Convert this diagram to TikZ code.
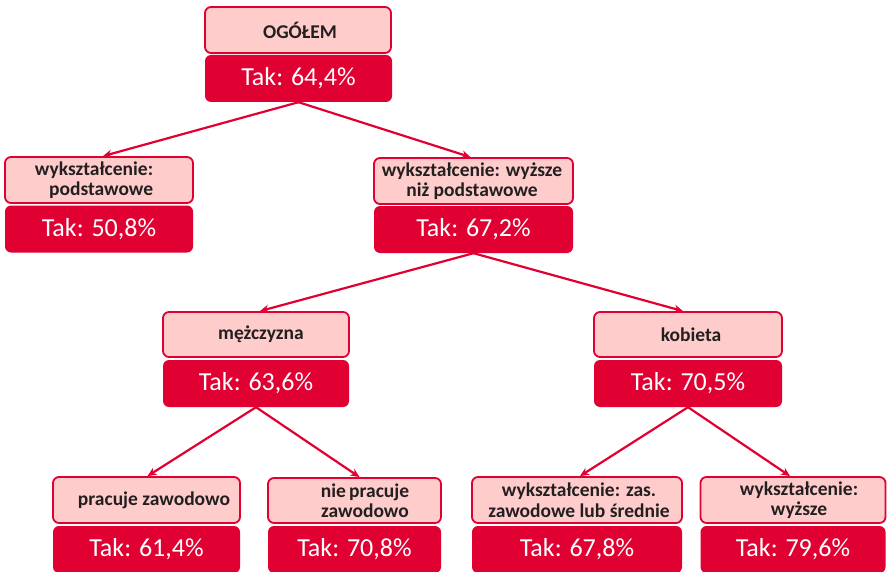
\documentclass[tikz,border=0pt]{standalone}
\usepackage{fontspec}
\setmainfont{Carlito}
\usetikzlibrary{arrows.meta}
\definecolor{crim}{RGB}{224,0,50}
\definecolor{pinkc}{RGB}{255,204,204}
\definecolor{darkt}{RGB}{35,31,32}
\tikzset{
  lblbox/.style={draw=crim, fill=pinkc, line width=1.8pt, rounded corners=6pt,
    minimum height=46pt, inner sep=0pt},
  lbltxt/.style={text=darkt, font=\bfseries\fontsize{19.5}{20.5}\selectfont, inner sep=0pt},
  takbox/.style={fill=crim, rounded corners=6pt, minimum height=47pt, inner sep=0pt,
    text=white, font=\fontsize{26}{30}\selectfont},
  link/.style={draw=crim, line width=2.2pt, -{Stealth[length=9pt,width=8pt]}}
}
\begin{document}
\begin{tikzpicture}[x=1pt,y=-1pt]
\useasboundingbox (0,0) rectangle (888,572);

% level 0
\node[lblbox, minimum width=186pt] (l0) at (298,30) {};
\node[lbltxt] (l0t) at (300,30) {OGÓŁEM};
\node[takbox, minimum width=187pt] (t0) at (298.5,78.5) {Tak: 64,4\%};

% level 1
\node[lblbox, minimum width=188pt] (l1) at (99,180) {};
\node[lbltxt, align=right] (l1t) at (94,180) {wykształcenie:\\podstawowe};
\node[takbox, minimum width=188pt] (t1) at (99,229) {Tak: 50,8\%};

\node[lblbox, minimum width=199pt] (l2) at (473.5,181) {};
\node[lbltxt, align=center] (l2t) at (472,181) {wykształcenie: wyższe\\niż podstawowe};
\node[takbox, minimum width=199pt] (t2) at (473.5,229.5) {Tak: 67,2\%};

% level 2
\node[lblbox, minimum width=186pt, minimum height=45pt] (l3) at (256,334.5) {};
\node[lbltxt] (l3t) at (261,334.5) {mężczyzna};
\node[takbox, minimum width=186pt] (t3) at (256,383.5) {Tak: 63,6\%};

\node[lblbox, minimum width=188pt, minimum height=45pt] (l4) at (688,334.5) {};
\node[lbltxt] (l4t) at (691,334.5) {kobieta};
\node[takbox, minimum width=188pt] (t4) at (688,383.5) {Tak: 70,5\%};

% level 3
\node[lblbox, minimum width=187pt] (l5) at (146.5,500) {};
\node[lbltxt] (l5t) at (154,500) {pracuje zawodowo};
\node[takbox, minimum width=187pt] (t5) at (146.5,549.5) {Tak: 61,4\%};

\node[lblbox, minimum width=173pt, minimum height=45pt] (l6) at (354.5,500.5) {};
\node[lbltxt, align=center] (l6t) at (365,500.5) {nie\,pracuje\\zawodowo};
\node[takbox, minimum width=173pt] (t6) at (354.5,549.5) {Tak: 70,8\%};

\node[lblbox, minimum width=210pt] (l7) at (577,500) {};
\node[lbltxt, align=center] (l7t) at (579,500) {wykształcenie: zas.\\zawodowe lub średnie};
\node[takbox, minimum width=210pt] (t7) at (577,549.5) {Tak: 67,8\%};

\node[lblbox, minimum width=185pt] (l8) at (793,500) {};
\node[lbltxt, align=center] (l8t) at (799,500) {wykształcenie:\\wyższe};
\node[takbox, minimum width=185pt] (t8) at (793,549.5) {Tak: 79,6\%};

% connectors
\draw[link] (t0.south) -- ([xshift=4pt]l1.north);
\draw[link] (t0.south) -- ([xshift=-3pt]l2.north);
\draw[link] (t2.south) -- ([xshift=4pt]l3.north);
\draw[link] (t2.south) -- ([xshift=-5pt]l4.north);
\draw[link] (t3.south) -- ([xshift=1pt]l5.north);
\draw[link] (t3.south) -- ([xshift=5pt]l6.north);
\draw[link] (t4.south) -- ([xshift=3pt]l7.north);
\draw[link] (t4.south) -- ([xshift=-3pt]l8.north);
\end{tikzpicture}
\end{document}
